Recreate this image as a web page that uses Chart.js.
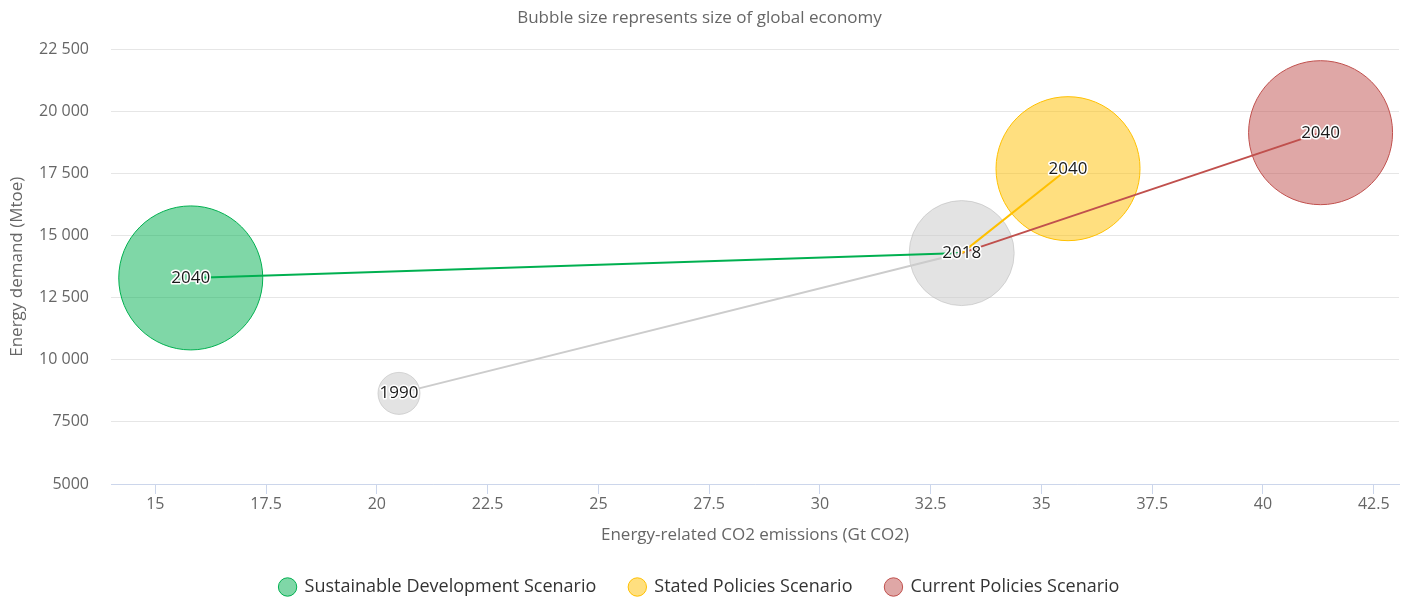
<!DOCTYPE html>
<html>
<head>
<meta charset="utf-8">
<title>Energy demand vs CO2 emissions</title>
<script src="https://cdn.jsdelivr.net/npm/chart.js@4/dist/chart.umd.min.js"></script>
<style>
  html, body { margin: 0; padding: 0; background: #fff; }
  #wrap { width: 1409px; height: 597px; }
</style>
</head>
<body>
<div id="wrap"><canvas id="bubbles"></canvas></div>
<script>
// historical points (1990, 2018)
var histYears = ['1990', '2018'];
var histCO2 = [20.5, 33.2];
var histDemand = [8650, 14300];
var histGdp = [55, 138];

// scenario end points (2040)
var scenarios = ['Sustainable Development Scenario', 'Stated Policies Scenario', 'Current Policies Scenario'];
var scenYear = '2040';
var scenCO2 = [15.8, 35.6, 41.3];
var scenDemand = [13300, 17700, 19150];
var scenGdp = [225, 225, 225];

var xTicks = [15, 17.5, 20, 22.5, 25, 27.5, 30, 32.5, 35, 37.5, 40, 42.5];
var yTicks = [5000, 7500, 10000, 12500, 15000, 17500, 20000, 22500];

var lineColors = ['#00b050', '#ffc000', '#c0504d'];
var fillColors = ['rgba(0,176,80,0.5)', 'rgba(255,192,0,0.5)', 'rgba(192,80,77,0.5)'];

// bubble area grows linearly with GDP, like highcharts' sizeBy: 'area'
var allGdp = histGdp.concat(scenGdp);
var zMin = Math.min.apply(null, allGdp), zMax = Math.max.apply(null, allGdp);
function bubbleRadius(z) {
    var rMin = 21, rMax = 72;
    var t = (z - zMin) / (zMax - zMin);
    return Math.sqrt(rMin * rMin + t * (rMax * rMax - rMin * rMin));
}

var datasets = [];

// connecting lines, drawn on top of the bubbles through order
datasets.push({
    type: 'line',
    label: 'hist-line',
    data: [{x: histCO2[0], y: histDemand[0]}, {x: histCO2[1], y: histDemand[1]}],
    borderColor: '#cccccc',
    borderWidth: 2,
    pointRadius: 0,
    fill: false,
    order: 1
});
scenarios.forEach(function (name, i) {
    datasets.push({
        type: 'line',
        label: name + '-line',
        data: [{x: histCO2[1], y: histDemand[1]}, {x: scenCO2[i], y: scenDemand[i]}],
        borderColor: lineColors[i],
        borderWidth: 2,
        pointRadius: 0,
        fill: false,
        order: 1
    });
});

datasets.push({
    label: 'Historical',
    data: histCO2.map(function (x, i) { return {x: x, y: histDemand[i], r: bubbleRadius(histGdp[i])}; }),
    yearLabels: histYears,
    backgroundColor: 'rgba(200,200,200,0.5)',
    borderColor: 'rgba(190,190,190,0.6)',
    borderWidth: 1,
    order: 2
});
scenarios.forEach(function (name, i) {
    datasets.push({
        label: name,
        data: [{x: scenCO2[i], y: scenDemand[i], r: bubbleRadius(scenGdp[i])}],
        yearLabels: [scenYear],
        backgroundColor: fillColors[i],
        borderColor: lineColors[i],
        borderWidth: 1,
        order: 2
    });
});

// year labels with a white outline in the middle of each bubble
var yearLabelPlugin = {
    id: 'yearLabels',
    afterDatasetsDraw: function (chart) {
        var ctx = chart.ctx;
        ctx.save();
        ctx.font = "17px 'Open Sans', sans-serif";
        ctx.textAlign = 'center';
        ctx.textBaseline = 'middle';
        ctx.lineJoin = 'round';
        chart.data.datasets.forEach(function (ds, di) {
            if (!ds.yearLabels) return;
            chart.getDatasetMeta(di).data.forEach(function (pt, j) {
                ctx.lineWidth = 3;
                ctx.strokeStyle = '#ffffff';
                ctx.strokeText(ds.yearLabels[j], pt.x, pt.y);
                ctx.fillStyle = '#1a1a1a';
                ctx.fillText(ds.yearLabels[j], pt.x, pt.y);
            });
        });
        ctx.restore();
    }
};

// legend keeps wide gaps between items but a short box at the bottom
var legendHeightPlugin = {
    id: 'legendHeight',
    beforeLayout: function (chart) {
        var lg = chart.legend;
        if (lg && !lg._shortFit) {
            var fit = lg.fit;
            lg.fit = function () {
                fit.apply(this, arguments);
                this.height = 52;
            };
            lg._shortFit = true;
        }
    }
};

Chart.defaults.font.family = "'Open Sans', sans-serif";

var chart = new Chart(document.getElementById('bubbles').getContext('2d'), {
    type: 'bubble',
    data: {datasets: datasets},
    plugins: [yearLabelPlugin, legendHeightPlugin],
    options: {
        responsive: true,
        maintainAspectRatio: false,
        animation: false,
        events: [],
        layout: {autoPadding: false, padding: {left: 0, right: 10, top: 0, bottom: 0}},
        scales: {
            x: {
                type: 'linear',
                min: 14,
                max: 43.07,
                afterBuildTicks: function (axis) {
                    axis.ticks = xTicks.map(function (v) { return {value: v}; });
                },
                afterFit: function (axis) { axis.height = 61; },
                ticks: {
                    color: '#666',
                    font: {size: 16},
                    padding: 1,
                    maxRotation: 0,
                    autoSkip: false,
                    callback: function (v) { return String(v); }
                },
                grid: {
                    drawOnChartArea: false,
                    drawTicks: true,
                    tickLength: 10,
                    color: '#ccd6eb'
                },
                border: {color: '#ccd6eb', width: 1},
                title: {
                    display: true,
                    text: 'Energy-related CO2 emissions (Gt CO2)',
                    color: '#666',
                    font: {size: 17},
                    padding: {top: 0, bottom: 0}
                }
            },
            y: {
                type: 'linear',
                min: 5000,
                max: 22500,
                afterBuildTicks: function (axis) {
                    axis.ticks = yTicks.map(function (v) { return {value: v}; });
                },
                afterFit: function (axis) { axis.width = 111; },
                ticks: {
                    color: '#666',
                    font: {size: 16},
                    padding: 22,
                    callback: function (v) {
                        return v >= 10000 ? String(v).replace(/\B(?=(\d{3})+(?!\d))/g, ' ') : String(v);
                    }
                },
                grid: {color: '#e6e6e6', drawTicks: false},
                border: {display: false},
                title: {
                    display: true,
                    text: 'Energy demand (Mtoe)',
                    color: '#666',
                    font: {size: 17},
                    padding: {top: 6.8, bottom: 0}
                }
            }
        },
        plugins: {
            title: {
                display: true,
                text: 'Bubble size represents size of global economy',
                color: '#666',
                font: {size: 17, weight: 'normal'},
                padding: {top: 7.8, bottom: 21.3}
            },
            legend: {
                position: 'bottom',
                labels: {
                    usePointStyle: true,
                    pointStyle: 'circle',
                    boxWidth: 16,
                    boxHeight: 13,
                    padding: 33,
                    color: '#333',
                    font: {size: 18},
                    filter: function (item, data) {
                        return scenarios.indexOf(data.datasets[item.datasetIndex].label) >= 0;
                    }
                }
            },
            tooltip: {enabled: false}
        }
    }
});
</script>
</body>
</html>
